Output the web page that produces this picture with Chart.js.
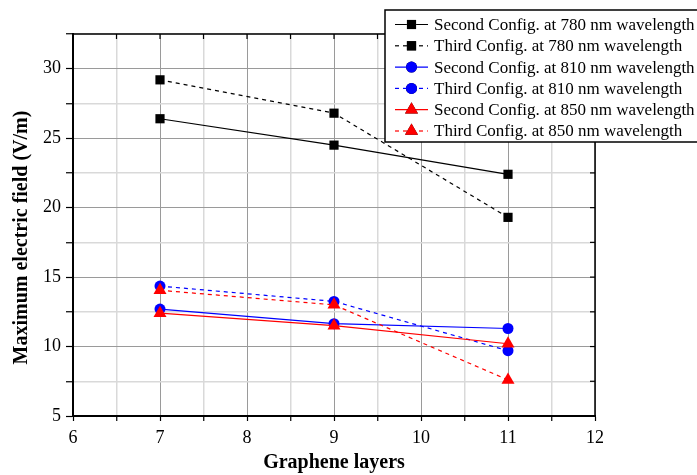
<!DOCTYPE html>
<html>
<head>
<meta charset="utf-8">
<script src="https://cdn.jsdelivr.net/npm/chart.js@4/dist/chart.umd.min.js"></script>
<style>
  body { margin: 0; background: #fff; }
  #wrap { width: 697px; height: 475px; }
</style>
</head>
<body>
<div id="wrap"><canvas id="campo"></canvas></div>
<script>
const capas = [7, 9, 11];
const second780 = [26.4, 24.5, 22.4];
const third780 = [29.2, 26.8, 19.3];
const second810 = [12.7, 11.65, 11.3];
const third810 = [14.35, 13.25, 9.7];
const second850 = [12.4, 11.5, 10.2];
const third850 = [14.05, 13.0, 7.6];

const fuente = "'Liberation Serif', 'Times New Roman', serif";

function puntos(vals) {
    return capas.map((c, i) => ({ x: c, y: vals[i] }));
}

function serie(label, vals, color, estilo, radio, dash, orden) {
    return {
        label: label,
        data: puntos(vals),
        borderColor: color,
        backgroundColor: color,
        borderWidth: 1.2,
        borderDash: dash,
        pointStyle: estilo,
        pointRadius: radio,
        pointHoverRadius: radio,
        pointBorderWidth: 0,
        tension: 0,
        order: orden
    };
}

const datos = {
    datasets: [
        serie('Second Config. at 780 nm wavelength', second780, '#000000', 'rect', 6.5, [], 2),
        serie('Third Config. at 780 nm wavelength', third780, '#000000', 'rect', 6.5, [4, 4], 2),
        serie('Second Config. at 810 nm wavelength', second810, '#0000ff', 'circle', 5.5, [], 1),
        serie('Third Config. at 810 nm wavelength', third810, '#0000ff', 'circle', 5.5, [4, 4], 1),
        serie('Second Config. at 850 nm wavelength', second850, '#ff0000', 'triangle', 7.5, [], 0),
        serie('Third Config. at 850 nm wavelength', third850, '#ff0000', 'triangle', 7.5, [4, 4], 0)
    ]
};

// marco superior/derecho con ticks hacia dentro + leyenda tipo Origin
const marco = {
    id: 'marco',
    afterDraw(chart) {
        const ctx = chart.ctx;
        const a = chart.chartArea;
        const sx = chart.scales.x, sy = chart.scales.y;
        ctx.save();
        ctx.strokeStyle = '#000';
        ctx.lineWidth = 1.5;
        ctx.beginPath();
        ctx.moveTo(a.left, a.top); ctx.lineTo(a.right, a.top); ctx.lineTo(a.right, a.bottom);
        ctx.stroke();
        ctx.lineWidth = 1.2;
        sx.ticks.forEach(t => {
            const px = sx.getPixelForValue(t.value);
            ctx.beginPath(); ctx.moveTo(px, a.top); ctx.lineTo(px, a.top + 5); ctx.stroke();
        });
        sy.ticks.forEach(t => {
            const py = sy.getPixelForValue(t.value);
            ctx.beginPath(); ctx.moveTo(a.right, py); ctx.lineTo(a.right - 5, py); ctx.stroke();
        });

        // leyenda
        const x0 = 385, y0 = 10, fila = 21.3;
        ctx.fillStyle = '#fff';
        ctx.fillRect(x0, y0, 330, 132);
        ctx.strokeStyle = '#000';
        ctx.lineWidth = 1.5;
        ctx.strokeRect(x0, y0, 330, 132);
        ctx.font = '17px ' + fuente;
        ctx.textBaseline = 'middle';
        chart.data.datasets.forEach((ds, i) => {
            const y = y0 + 14.5 + i * fila;
            ctx.strokeStyle = ds.borderColor;
            ctx.lineWidth = 1.2;
            ctx.setLineDash(ds.borderDash.length ? [4, 4] : []);
            ctx.beginPath(); ctx.moveTo(395, y); ctx.lineTo(428, y); ctx.stroke();
            ctx.setLineDash([]);
            Chart.helpers.drawPoint(ctx, {
                pointStyle: ds.pointStyle, radius: ds.pointRadius, borderWidth: 0
            }, 411.5, y);
            ctx.fillStyle = ds.backgroundColor;
            ctx.fill();
            ctx.fillStyle = '#000';
            ctx.fillText(ds.label, 434, y + 1);
        });
        ctx.restore();
    }
};

const grafica = new Chart(document.getElementById('campo'), {
    type: 'line',
    data: datos,
    plugins: [marco],
    options: {
        responsive: true,
        maintainAspectRatio: false,
        animation: false,
        layout: { padding: { top: 34, right: 102, left: 0, bottom: 0 } },
        plugins: {
            legend: { display: false },
            tooltip: { enabled: false }
        },
        scales: {
            x: {
                type: 'linear',
                min: 6,
                max: 12,
                afterFit(s) { s.height = 59; },
                ticks: {
                    stepSize: 0.5,
                    autoSkip: false,
                    maxRotation: 0,
                    color: '#000',
                    padding: 6,
                    font: { family: fuente, size: 18 },
                    callback: v => Number.isInteger(v) ? String(v) : ''
                },
                grid: {
                    color: c => Number.isInteger(c.tick.value) ? '#9a9a9a' : '#d9d9d9',
                    lineWidth: c => Number.isInteger(c.tick.value) ? 1 : 1.5,
                    tickColor: '#000',
                    tickLength: 5,
                    tickWidth: 1.2
                },
                border: { display: true, color: '#000', width: 2 },
                title: {
                    display: true,
                    text: 'Graphene layers',
                    color: '#000',
                    font: { family: fuente, size: 20, weight: 'bold' },
                    padding: { top: 0, bottom: 0 }
                }
            },
            y: {
                min: 5,
                max: 32.5,
                afterFit(s) { s.width = 73; },
                ticks: {
                    stepSize: 2.5,
                    autoSkip: false,
                    color: '#000',
                    padding: 5,
                    font: { family: fuente, size: 18 },
                    callback: v => v % 5 === 0 ? String(v) : ''
                },
                grid: {
                    color: c => c.tick.value % 5 === 0 ? '#9a9a9a' : '#d9d9d9',
                    lineWidth: c => c.tick.value % 5 === 0 ? 1 : 1.5,
                    tickColor: '#000',
                    tickLength: 7,
                    tickWidth: 1.2
                },
                border: { display: true, color: '#000', width: 2 },
                title: {
                    display: true,
                    // espacios finales para bajar el titulo como en el original
                    text: 'Maximum electric field (V/m)\u00A0\u00A0\u00A0\u00A0\u00A0',
                    color: '#000',
                    font: { family: fuente, size: 20, weight: 'bold' },
                    padding: { top: 10, bottom: 0 }
                }
            }
        }
    }
});
</script>
</body>
</html>
